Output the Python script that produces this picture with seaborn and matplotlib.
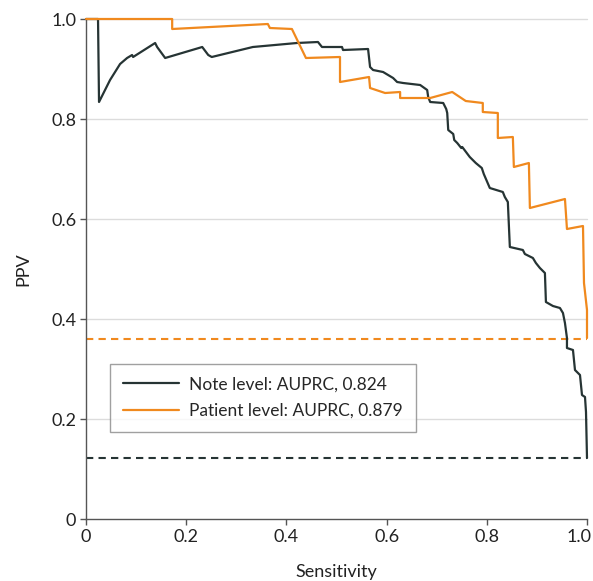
import matplotlib
matplotlib.use("Agg")
import matplotlib.pyplot as plt
import matplotlib.transforms as mtransforms
import seaborn as sns
import pandas as pd

# Precision-recall curve, note level
note_sens = [0.000, 0.024, 0.026, 0.048, 0.068, 0.082, 0.092, 0.094, 0.138, 0.142,
             0.158, 0.232, 0.244, 0.251, 0.333, 0.421, 0.463, 0.471, 0.511, 0.513,
             0.563, 0.567, 0.573, 0.593, 0.603, 0.613, 0.621, 0.633, 0.667, 0.681,
             0.683, 0.687, 0.713, 0.719, 0.721, 0.723, 0.733, 0.735, 0.741, 0.749,
             0.751, 0.760, 0.766, 0.772, 0.778, 0.790, 0.794, 0.806, 0.832, 0.836,
             0.842, 0.846, 0.872, 0.876, 0.892, 0.898, 0.906, 0.916, 0.918, 0.932,
             0.946, 0.952, 0.956, 0.960, 0.960, 0.972, 0.976, 0.986, 0.990, 0.996,
             0.998, 1.000]
note_ppv = [1.000, 1.000, 0.834, 0.878, 0.910, 0.922, 0.928, 0.924, 0.952, 0.944,
            0.922, 0.944, 0.928, 0.924, 0.944, 0.952, 0.954, 0.944, 0.944, 0.938,
            0.940, 0.904, 0.898, 0.894, 0.888, 0.882, 0.874, 0.872, 0.868, 0.858,
            0.844, 0.834, 0.832, 0.820, 0.812, 0.778, 0.770, 0.758, 0.752, 0.742,
            0.744, 0.732, 0.724, 0.718, 0.712, 0.702, 0.690, 0.662, 0.654, 0.644,
            0.634, 0.544, 0.538, 0.530, 0.522, 0.512, 0.502, 0.492, 0.434, 0.426,
            0.422, 0.412, 0.392, 0.362, 0.342, 0.338, 0.298, 0.288, 0.248, 0.244,
            0.214, 0.122]

# Precision-recall curve, patient level
patient_sens = [0.000, 0.172, 0.172, 0.363, 0.367, 0.411, 0.439, 0.507, 0.507, 0.565,
                0.567, 0.597, 0.627, 0.627, 0.687, 0.731, 0.758, 0.792, 0.792, 0.822,
                0.822, 0.852, 0.854, 0.884, 0.886, 0.956, 0.960, 0.992, 0.994, 1.000,
                1.000]
patient_ppv = [1.000, 1.000, 0.980, 0.990, 0.982, 0.980, 0.922, 0.924, 0.874, 0.884,
               0.862, 0.852, 0.854, 0.842, 0.842, 0.854, 0.836, 0.832, 0.814, 0.812,
               0.762, 0.764, 0.704, 0.712, 0.622, 0.640, 0.580, 0.586, 0.472, 0.418,
               0.362]

# Prevalence baselines
note_baseline = 0.122
patient_baseline = 0.36

labels = ["Note level: AUPRC, 0.824", "Patient level: AUPRC, 0.879"]
x_ticks = [0, 0.2, 0.4, 0.6, 0.8, 1.0]
x_ticklabels = ["0", "0.2", "0.4", "0.6", "0.8", "1.0"]
y_ticks = [0, 0.2, 0.4, 0.6, 0.8, 1.0]
y_ticklabels = ["0", "0.2", "0.4", "0.6", "0.8", "1.0"]

NOTE_COLOR = "#263434"
PATIENT_COLOR = "#f0891e"

sns.set_theme(style="ticks")
plt.rcParams["font.family"] = ["Lato", "DejaVu Sans"]

df = pd.concat([
    pd.DataFrame({"Sensitivity": note_sens, "PPV": note_ppv, "level": labels[0]}),
    pd.DataFrame({"Sensitivity": patient_sens, "PPV": patient_ppv, "level": labels[1]}),
], ignore_index=True)

fig = plt.figure(figsize=(5.93, 5.81), dpi=100)
ax = fig.add_axes([86 / 593, 62 / 581, 501 / 593, 500 / 581])

ax.set_xlim(0, 1.0)
ax.set_ylim(0, 1.0)
for yv in y_ticks[1:]:
    ax.axhline(yv, color="#dcdcdc", lw=1.0, zorder=0)

ax.plot([0, 1.0], [patient_baseline, patient_baseline], ls=(0, (3.5, 2.5)),
        color=PATIENT_COLOR, lw=1.5, zorder=2)
ax.plot([0, 1.0], [note_baseline, note_baseline], ls=(0, (3.5, 2.5)),
        color=NOTE_COLOR, lw=1.5, zorder=2)

sns.lineplot(data=df, x="Sensitivity", y="PPV", hue="level", sort=False,
             estimator=None, palette=[NOTE_COLOR, PATIENT_COLOR],
             linewidth=1.6, ax=ax, zorder=3)
for line in ax.get_lines():
    line.set_clip_on(False)

ax.set_xticks(x_ticks)
ax.set_xticklabels(x_ticklabels)
ax.set_yticks(y_ticks)
ax.set_yticklabels(y_ticklabels)
ax.tick_params(axis="both", labelsize=13, length=4, width=1, color="#555555",
               labelcolor="#222222", pad=3)
for side in ["top", "right"]:
    ax.spines[side].set_visible(False)
for side in ["left", "bottom"]:
    ax.spines[side].set_color("#555555")
    ax.spines[side].set_linewidth(1.0)

# keep the last x tick label inside the figure edge
last = ax.get_xticklabels()[-1]
last.set_transform(last.get_transform() +
                   mtransforms.ScaledTranslation(-8 / 100, 0, fig.dpi_scale_trans))

ax.set_xlabel("Sensitivity", fontsize=13, color="#222222", labelpad=14)
ax.set_ylabel("PPV", fontsize=13, color="#222222", labelpad=14)

handles, _ = ax.get_legend_handles_labels()
leg = ax.legend(handles=handles[:2], labels=labels, loc="lower left",
                bbox_to_anchor=(0.048, 0.174), borderaxespad=0, fontsize=12.5,
                frameon=True, fancybox=False, edgecolor="#888888",
                handlelength=3.2, handletextpad=0.6, borderpad=0.75,
                labelspacing=0.6, title=None)
leg.get_frame().set_linewidth(1.0)

fig.savefig("out.png", dpi=100)
